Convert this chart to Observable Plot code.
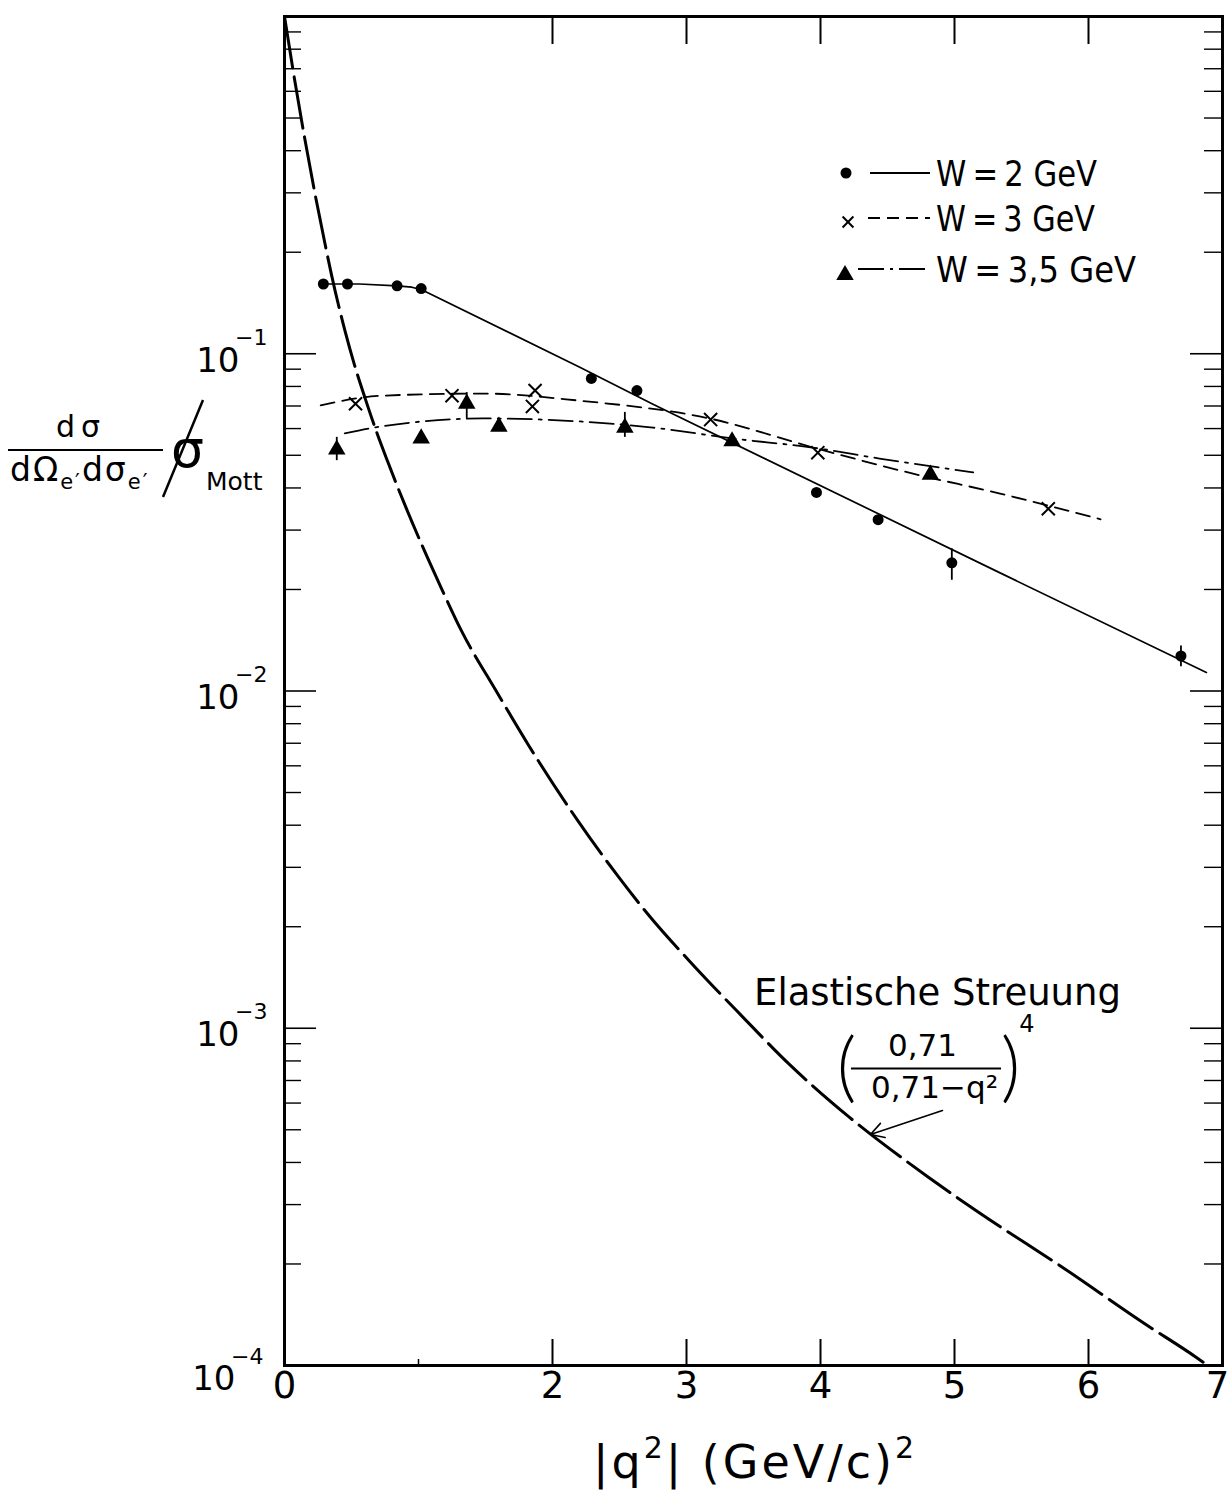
<!DOCTYPE html>
<html><head><meta charset="utf-8">
<script src="https://cdn.jsdelivr.net/npm/d3@7"></script>
<script src="https://cdn.jsdelivr.net/npm/@observablehq/plot@0.6"></script>
<style>
body{margin:0;background:#fff;}
#chart{position:relative;width:1230px;height:1496px;}
</style></head><body><div id="chart"></div>
<script>
// ---- axis ticks ----
const xTickMarks = [2, 3, 4, 5, 6];
const xTickLabels = [0, 2, 3, 4, 5, 6, 7];
const yDecades = [1e-1, 1e-2, 1e-3];
const yLabelTicks = [1e-1, 1e-2, 1e-3, 1e-4];
const yMinorMultipliers = [2, 3, 4, 5, 6, 7, 8, 9];

// ---- W = 2 GeV (dots) ----
const w2X = [0.29, 0.47, 0.84, 1.02, 2.29, 2.63, 3.97, 4.43, 4.98, 6.69];
const w2Y = [0.161, 0.161, 0.159, 0.156, 0.0845, 0.0778, 0.0388, 0.0322, 0.0240, 0.0127];
const w2ErrX = [4.98, 6.69];
const w2ErrLo = [0.0213, 0.0118];
const w2ErrHi = [0.0264, 0.0136];
const w2LineX = [0.27, 0.56, 0.84, 0.95, 1.02, 2.20, 2.75, 5.34, 6.88];
const w2LineY = [0.161, 0.161, 0.159, 0.1575, 0.155, 0.0914, 0.0708, 0.0224, 0.01135];

// ---- W = 3 GeV (crosses) ----
const w3X = [0.53, 1.25, 1.87, 1.85, 3.18, 3.98, 5.70];
const w3Y = [0.0711, 0.0751, 0.0778, 0.0698, 0.0638, 0.0509, 0.0347];
const w3LineX = [0.27, 0.73, 1.48, 2.20, 3.17, 3.97, 4.69, 5.34, 6.09];
const w3LineY = [0.0703, 0.0751, 0.0762, 0.0726, 0.0643, 0.0524, 0.0441, 0.0385, 0.0323];

// ---- W = 3,5 GeV (triangles) ----
const w35X = [0.39, 1.02, 1.36, 1.60, 2.54, 3.34, 4.82];
const w35Y = [0.0520, 0.0561, 0.0711, 0.0608, 0.0604, 0.0550, 0.0438];
const w35ErrX = [0.39, 1.36, 2.54];
const w35ErrLo = [0.0482, 0.0643, 0.0565];
const w35ErrHi = [0.0565, 0.0767, 0.0670];
const w35LineX = [0.45, 0.68, 1.03, 1.48, 2.20, 2.75, 3.34, 3.94, 4.44, 5.14];
const w35LineY = [0.0581, 0.0605, 0.0630, 0.0643, 0.0630, 0.0604, 0.0561, 0.0527, 0.0489, 0.0445];

// ---- elastic scattering curve ----
const elX = [0, 0.06, 0.15, 0.22, 0.30, 0.35, 0.45, 0.52, 0.60, 0.69, 0.77, 0.90, 1.02, 1.17, 1.32, 1.58, 1.82, 2.19, 2.49, 2.72, 3.03, 3.41, 3.77, 4.21, 4.80, 5.16, 5.81, 6.42, 6.80, 6.89];
const elY = [1.0, 0.708, 0.437, 0.309, 0.214, 0.172, 0.1175, 0.0933, 0.0741, 0.0582, 0.0479, 0.0355, 0.0274, 0.0202, 0.0151, 0.0100, 0.00692, 0.00412, 0.00282, 0.00216, 0.00157, 0.00109, 0.00078, 0.000547, 0.000363, 0.000288, 0.000195, 0.000133, 0.000106, 0.0001];

// ---- text ----
const legendLabels = ["W\u2009=\u20092 GeV", "W\u2009=\u20093 GeV", "W\u2009=\u20093,5 GeV"];
const annotTitle = "Elastische Streuung";
const annotNum = "0,71";
const annotDen = "0,71\u2212q\u00B2";

// ---- layout ----
const W = 1230, H = 1496;
const mL = 284, mR = 8, mT = 16, mB = 131;
const frameW = W - mL - mR, frameH = H - mT - mB;
const yMinor = [];
for (const d of [1e-4, 1e-3, 1e-2, 1e-1]) for (const k of yMinorMultipliers) yMinor.push(k * d);
const font = "DejaVu Sans";

const pts = (xs, ys) => xs.map((x, i) => ({x, y: ys[i]}));
const errs = (xs, lo, hi) => xs.map((x, i) => ({x, y1: lo[i], y2: hi[i]}));
const supText = d => "\u2212" + Math.round(-Math.log10(d));

const chart = Plot.plot({
  width: W, height: H,
  marginLeft: mL, marginRight: mR, marginTop: mT, marginBottom: mB,
  x: {domain: [0, 7], axis: null},
  y: {type: "log", domain: [1e-4, 1], axis: null},
  style: {fontFamily: font, background: "white", color: "black"},
  marks: [
    // ticks
    Plot.tickX(xTickMarks, {x: d => d, insetTop: frameH - 26, strokeWidth: 2}),
    Plot.tickX(xTickMarks, {x: d => d, insetBottom: frameH - 28, strokeWidth: 2}),
    Plot.tickX([1], {x: d => d, insetTop: frameH - 6, strokeWidth: 1.5}),
    Plot.tickY(yDecades, {y: d => d, insetRight: frameW - 32, strokeWidth: 1.6}),
    Plot.tickY(yMinor, {y: d => d, insetRight: frameW - 17, strokeWidth: 1.4}),
    Plot.tickY(yDecades, {y: d => d, insetLeft: frameW - 32, strokeWidth: 1.6}),
    Plot.tickY(yMinor, {y: d => d, insetLeft: frameW - 18, strokeWidth: 1.4}),
    // tick labels
    Plot.text(xTickLabels.filter(d => d < 7), {x: d => d, text: d => String(d), frameAnchor: "bottom", dy: 32, fontSize: 37}),
    Plot.text(xTickLabels.filter(d => d >= 7), {x: d => d, text: d => String(d), frameAnchor: "bottom", dy: 32, dx: -5, fontSize: 37}),
    Plot.text(yLabelTicks.filter(d => d > 1e-4), {y: d => d, text: () => "10", frameAnchor: "left", textAnchor: "end", dx: -45, dy: 7, fontSize: 34}),
    Plot.text(yLabelTicks.filter(d => d > 1e-4), {y: d => d, text: supText, frameAnchor: "left", textAnchor: "end", dx: -17, dy: -16, fontSize: 22}),
    Plot.text(yLabelTicks.filter(d => d <= 1e-4), {y: d => d, text: () => "10", frameAnchor: "left", textAnchor: "end", dx: -49, dy: 14, fontSize: 34}),
    Plot.text(yLabelTicks.filter(d => d <= 1e-4), {y: d => d, text: supText, frameAnchor: "left", textAnchor: "end", dx: -21, dy: -9, fontSize: 22}),
    // curves
    Plot.line(pts(elX, elY), {x: "x", y: "y", curve: "monotone-x", strokeWidth: 3, strokeDasharray: "52,9"}),
    Plot.line(pts(w2LineX, w2LineY), {x: "x", y: "y", curve: "linear", strokeWidth: 1.7}),
    Plot.line(pts(w3LineX, w3LineY), {x: "x", y: "y", curve: "monotone-x", strokeWidth: 1.8, strokeDasharray: "14,8"}),
    Plot.line(pts(w35LineX, w35LineY), {x: "x", y: "y", curve: "monotone-x", strokeWidth: 1.8, strokeDasharray: "24,7,3,7"}),
    // error bars
    Plot.ruleX(errs(w2ErrX, w2ErrLo, w2ErrHi), {x: "x", y1: "y1", y2: "y2", strokeWidth: 1.8}),
    Plot.ruleX(errs(w35ErrX, w35ErrLo, w35ErrHi), {x: "x", y1: "y1", y2: "y2", strokeWidth: 1.8}),
    // points
    Plot.dot(pts(w2X, w2Y), {x: "x", y: "y", r: 5.5, fill: "black", symbol: "circle"}),
    Plot.dot(pts(w3X, w3Y), {x: "x", y: "y", r: 6, stroke: "black", fill: "none", strokeWidth: 2, symbol: "times"}),
    Plot.dot(pts(w35X, w35Y), {x: "x", y: "y", r: 6.5, fill: "black", symbol: "triangle"}),
    // annotation
    Plot.text([annotTitle], {x: 4.873, y: 1.267e-3, text: d => d, fontSize: 37}),
    Plot.text([annotNum], {x: 4.761, y: 8.83e-4, text: d => d, fontSize: 31}),
    Plot.ruleY([7.6e-4], {x1: 4.231, x2: 5.351, strokeWidth: 2}),
    Plot.text([annotDen], {x: 4.851, y: 6.63e-4, text: d => d, fontSize: 31}),
    Plot.text(["("], {x: 4.194, y: 7.6e-4, text: d => d, fontSize: 76, fontWeight: 300, fontFamily: "Lato"}),
    Plot.text([")"], {x: 5.418, y: 7.6e-4, text: d => d, fontSize: 76, fontWeight: 300, fontFamily: "Lato"}),
    Plot.text(["4"], {x: 5.54, y: 1.03e-3, text: d => d, fontSize: 24}),
    Plot.arrow([0], {x1: 4.910, y1: 5.70e-4, x2: 4.373, y2: 4.84e-4, headLength: 14, strokeWidth: 1.6}),
    Plot.frame({strokeWidth: 3})
  ]
});
document.getElementById("chart").appendChild(chart);

// ---- y label, x title, legend (annotation layer) ----
const svg = d3.select(chart);
const g = svg.append("g").attr("font-family", font).attr("fill", "black").attr("text-anchor", "start");

// y-axis label: dσ / (dΩe' dσe') / σMott
g.append("text").attr("x", 78).attr("y", 437).attr("text-anchor", "middle").attr("font-size", 30).text("d\u2009\u03C3");
g.append("line").attr("x1", 8).attr("x2", 163).attr("y1", 450).attr("y2", 450).attr("stroke", "black").attr("stroke-width", 2);
const den = g.append("text").attr("x", 10).attr("y", 481).attr("font-size", 33).attr("letter-spacing", 2);
den.append("tspan").text("d\u03A9");
den.append("tspan").attr("font-size", 21).attr("dy", 8).text("e\u2032");
den.append("tspan").attr("dy", -8).text("d\u03C3");
den.append("tspan").attr("font-size", 21).attr("dy", 8).text("e\u2032");
g.append("line").attr("x1", 163).attr("y1", 497).attr("x2", 203).attr("y2", 400).attr("stroke", "black").attr("stroke-width", 2.5);
g.append("text").attr("x", 171).attr("y", 467).attr("font-size", 52).text("\u03C3");
g.append("text").attr("x", 206).attr("y", 490).attr("font-size", 25).text("Mott");

// x-axis title
const xt = g.append("text").attr("x", 755).attr("y", 1478).attr("text-anchor", "middle").attr("font-size", 46).attr("letter-spacing", 3);
xt.append("tspan").text("|q");
xt.append("tspan").attr("font-size", 30).attr("dy", -20).text("2");
xt.append("tspan").attr("dy", 20).text("| (GeV/c)");
xt.append("tspan").attr("font-size", 30).attr("dy", -20).text("2");

// legend
const rows = [173, 218, 269];
const lg = g.append("g");
lg.append("circle").attr("cx", 846).attr("cy", rows[0]).attr("r", 5.5);
lg.append("path").attr("transform", `translate(848,${rows[1] + 4})`).attr("d", d3.symbol(d3.symbolTimes, Math.PI * 25)()).attr("stroke", "black").attr("stroke-width", 2).attr("fill", "none");
lg.append("path").attr("transform", `translate(845,${rows[2] + 6})`).attr("d", d3.symbol(d3.symbolTriangle, Math.PI * 42)());
const lineStyles = [null, "12,7", "26,6,3,6"];
const lineStart = [870, 868, 858];
rows.forEach((r, i) => {
  const l = lg.append("line").attr("x1", lineStart[i]).attr("x2", 930).attr("y1", r).attr("y2", r).attr("stroke", "black").attr("stroke-width", 1.8);
  if (lineStyles[i]) l.attr("stroke-dasharray", lineStyles[i]);
});
const lgWidths = [161, 159, 200];
rows.forEach((r, i) => {
  lg.append("text").attr("x", 936).attr("y", r + 13).attr("font-size", 36)
    .attr("textLength", lgWidths[i]).attr("lengthAdjust", "spacingAndGlyphs").text(legendLabels[i]);
});
</script></body></html>
